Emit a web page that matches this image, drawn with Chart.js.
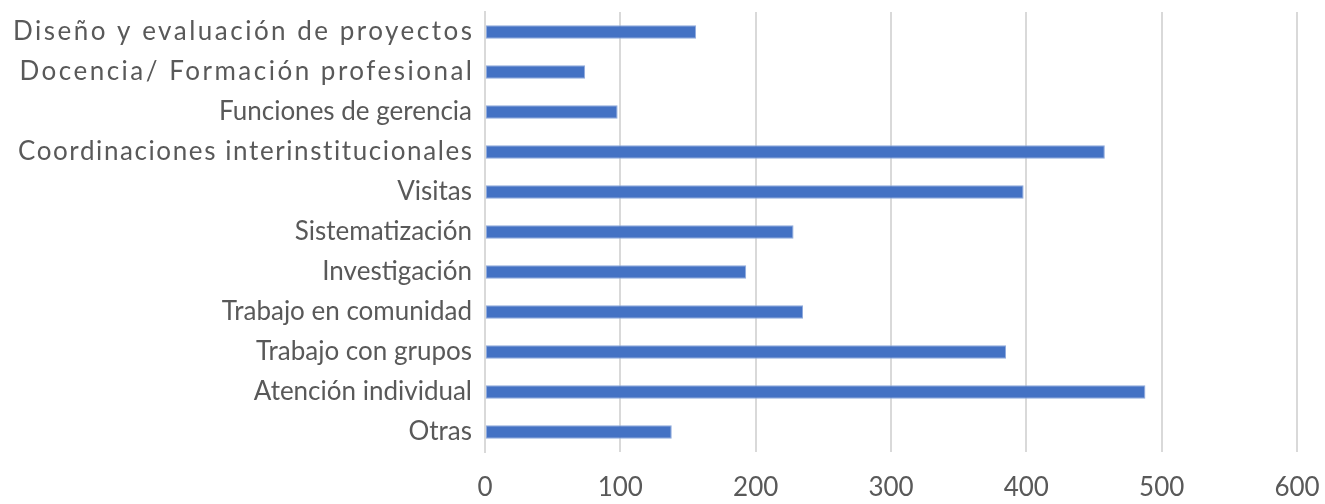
<!DOCTYPE html>
<html>
<head>
<meta charset="utf-8">
<script src="https://cdn.jsdelivr.net/npm/chart.js@4"></script>
<style>
  html, body { margin: 0; padding: 0; background: #fff; }
  #wrap { width: 1325px; height: 504px; }
</style>
</head>
<body>
<div id="wrap"><canvas id="chart" width="1325" height="504"></canvas></div>
<script>
const categories = [
  "Diseño y evaluación de proyectos",
  "Docencia/ Formación profesional",
  "Funciones de gerencia",
  "Coordinaciones interinstitucionales",
  "Visitas",
  "Sistematización",
  "Investigación",
  "Trabajo en comunidad",
  "Trabajo con grupos",
  "Atención individual",
  "Otras"
];
const values = [156, 74, 98, 458, 398, 228, 193, 235, 385, 488, 138];
const xTicks = [0, 100, 200, 300, 400, 500, 600];

// some labels are tracked out (letter spacing, px) in the original
const tracking = {
  "Diseño y evaluación de proyectos": 2.5,
  "Docencia/ Formación profesional": 2.5,
  "Coordinaciones interinstitucionales": 1.6
};

const canvas = document.getElementById("chart");
const ctx = canvas.getContext("2d");

// wrap fillText so the tracked labels get their letter spacing
const origFillText = ctx.fillText;
ctx.fillText = function (text, x, y, ...rest) {
  const sp = tracking[text];
  if (!sp) return origFillText.call(this, text, x, y, ...rest);
  const prev = this.letterSpacing;
  this.letterSpacing = sp + "px";
  origFillText.call(this, text, x + sp, y, ...rest);
  this.letterSpacing = prev;
};

new Chart(ctx, {
  type: "bar",
  data: {
    labels: categories,
    datasets: [{
      data: values,
      backgroundColor: "#4472C4",
      borderColor: "#8FAADC",
      borderWidth: 1,
      borderSkipped: false,
      categoryPercentage: 1,
      barPercentage: 0.34
    }]
  },
  options: {
    indexAxis: "y",
    responsive: false,
    animation: false,
    layout: { padding: { top: 12, right: 28, left: 0, bottom: 0 } },
    plugins: { legend: { display: false }, tooltip: { enabled: false } },
    scales: {
      x: {
        min: xTicks[0],
        max: xTicks[xTicks.length - 1],
        afterBuildTicks: (scale) => { scale.ticks = xTicks.map(v => ({ value: v })); },
        grid: { color: "#D9D9D9", lineWidth: 2, drawTicks: false },
        border: { display: false },
        ticks: { color: "#595959", font: { family: "Lato", size: 26 }, padding: 20 },
        afterFit: (scale) => {
          scale.height = 52;
          scale.paddingLeft = 0;
          scale.paddingRight = 0;
        }
      },
      y: {
        grid: { display: false },
        border: { display: true, color: "#D9D9D9", width: 2 },
        ticks: {
          color: "#595959",
          font: { family: "Lato", size: 26 },
          padding: 5,
          autoSkip: false
        },
        afterFit: (scale) => {
          scale.width = 485;
          scale.paddingTop = 0;
          scale.paddingBottom = 0;
        }
      }
    }
  }
});
</script>
</body>
</html>
